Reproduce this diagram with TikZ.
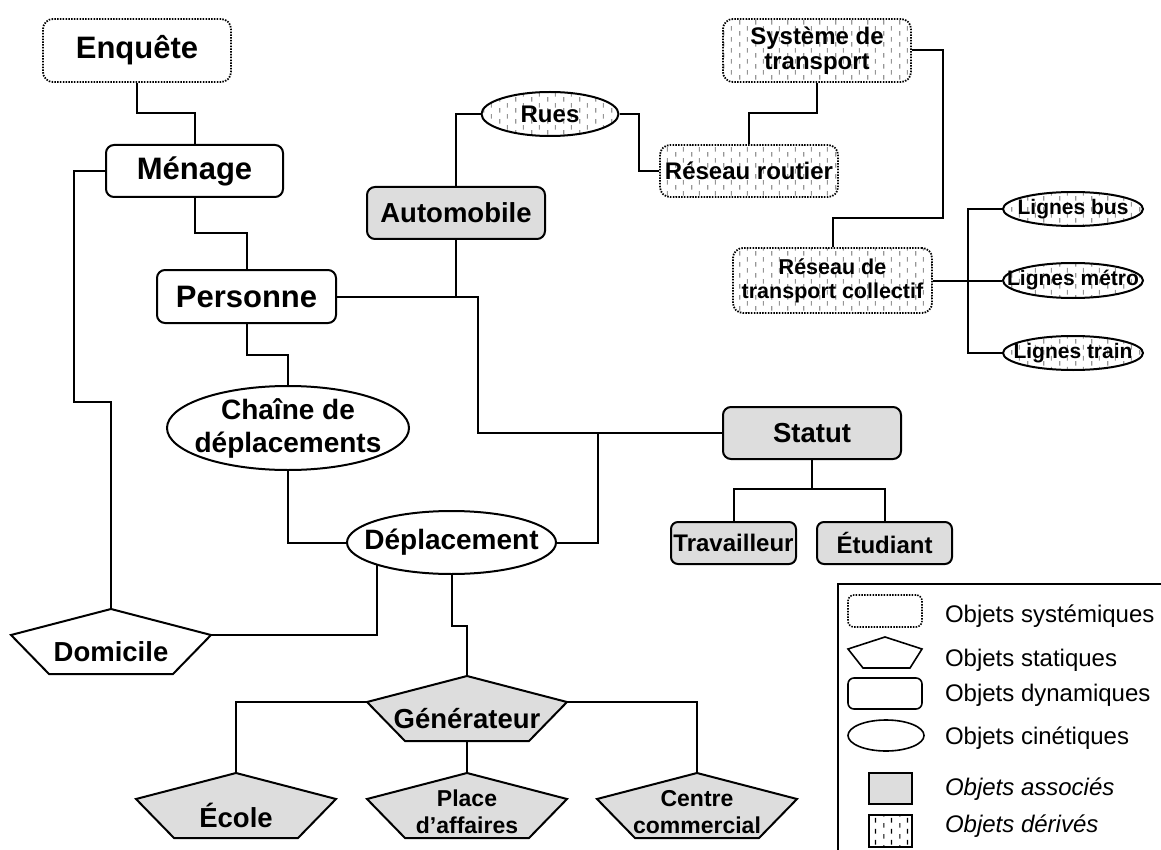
\documentclass[tikz,border=0pt]{standalone}
\usepackage{fontspec}
\setmainfont{Liberation Sans}
\usetikzlibrary{shapes.geometric,calc,patterns.meta}

\definecolor{assoc}{RGB}{221,221,221}
\definecolor{hatch}{RGB}{150,150,150}

% staggered short vertical dashes used for derived objects
\tikzdeclarepattern{
  name=dashcols, type=uncolored,
  bounding box={(0pt,0pt) and (16pt,11pt)},
  tile size={(16pt,11pt)},
  code={\draw[line width=1.2pt] (4pt,0.3pt) -- (4pt,5.2pt) (12pt,5.8pt) -- (12pt,10.7pt);}
}

\tikzset{
  fA/.style={font=\bfseries\fontsize{31}{34}\selectfont},
  fB/.style={font=\bfseries\fontsize{27.5}{33}\selectfont},
  fC/.style={font=\bfseries\fontsize{24}{25}\selectfont},
  fD/.style={font=\bfseries\fontsize{21.5}{24}\selectfont},
  fE/.style={font=\bfseries\fontsize{21}{24}\selectfont},
  fF/.style={font=\bfseries\fontsize{23}{27}\selectfont},
  fL/.style={font=\fontsize{24}{28}\selectfont},
  dyn/.style={draw, rounded corners=8pt, fill=white, inner sep=-25pt},
  sysobj/.style={draw, rounded corners=10pt, dash pattern=on 1.5pt off 1.3pt,
    line width=1.8pt, inner sep=-25pt},
  kin/.style={ellipse, draw, fill=white, inner sep=-30pt},
  derived/.style={pattern=dashcols, pattern color=hatch},
  assocfill/.style={fill=assoc},
  vhv/.style={to path={|- ($(\tikztostart)!0.5!(\tikztotarget)$) -| (\tikztotarget) \tikztonodes}},
  hvh/.style={to path={-| ($(\tikztostart)!0.5!(\tikztotarget)$) |- (\tikztotarget) \tikztonodes}},
  pics/pent/.style n args={4}{code={
    \filldraw[#1] (0,0) -- (100,26) -- (62,65) -- (-62,65) -- (-100,26) -- cycle;
    \coordinate (-apex) at (0,0);
    \coordinate (-left) at (-100,26);
    \coordinate (-right) at (100,26);
    \coordinate (-base) at (0,65);
    \node[#2] (-txt) at (0,#3) {#4};
  }},
}

\begin{document}
\begin{tikzpicture}[x=1pt, y=-1pt, line width=2pt,
  every node/.style={inner sep=0pt, align=center}]
\useasboundingbox (0,0) rectangle (1161,850);

% ---------- objects ----------
\node[sysobj, fill=white, fA, minimum width=188, minimum height=63] (enq) at (137,50.5) {Enquête};
\node[dyn, fA, minimum width=177, minimum height=52] (men) at (194.5,171) {Ménage};
\node[dyn, fA, minimum width=179, minimum height=53] (pers) at (246.5,296.5) {Personne};
\node[dyn, assocfill, fB, minimum width=178, minimum height=52] (auto) at (456,213) {Automobile};
\node[kin, derived, fC, minimum width=137, minimum height=44] (rues) at (550,114) {Rues};
\node[sysobj, derived, fC, minimum width=178, minimum height=52] (rr) at (749,171) {Réseau routier};
\node[sysobj, derived, fC, minimum width=188, minimum height=63] (sys) at (817,50.5) {Système de\\transport};
\node[sysobj, derived, fD, minimum width=199, minimum height=65] (rtc) at (832.5,280.5) {Réseau de\\transport collectif};
\node[kin, derived, fE, minimum width=140, minimum height=34] (bus) at (1073,209) {Lignes bus};
\node[kin, derived, fE, minimum width=140, minimum height=35] (metro) at (1073,280.5) {Lignes métro};
\node[kin, derived, fE, minimum width=140, minimum height=34] (train) at (1073,353) {Lignes train};
\node[kin, font=\bfseries\fontsize{28}{33}\selectfont, minimum width=242, minimum height=84] (cha) at (288,428) {Chaîne de\\déplacements};
\node[kin, font=\bfseries\fontsize{28}{33}\selectfont, minimum width=209, minimum height=63] (dep) at (451.5,542.5) {Déplacement};
\node[dyn, assocfill, fB, minimum width=178, minimum height=52] (stat) at (812,433) {Statut};
\node[dyn, assocfill, fC, rounded corners=7pt, minimum width=125, minimum height=42] (trav) at (733.5,543) {Travailleur};
\node[dyn, assocfill, fC, rounded corners=7pt, minimum width=135, minimum height=42] (etud) at (884.5,543) {Étudiant};

\pic (dom) at (111,609) {pent={fill=white}{fB}{43}{Domicile}};
\pic (gen) at (467,676) {pent={fill=assoc}{fB}{43}{Générateur}};
\pic (eco) at (236,773) {pent={fill=assoc}{fB}{42}{École}};
\pic (pla) at (467,773) {pent={fill=assoc}{fF}{39}{Place\\d’affaires}};
\pic (cen) at (697,773) {pent={fill=assoc}{fF}{39}{Centre\\commercial}};

% ---------- junction points ----------
\coordinate (bend-dom) at (74,402);
\coordinate (fork-stat) at (478,433);
\coordinate (join-dep) at (598,433);
\coordinate (stat-fork) at (812,489);
\coordinate (bend-rtc) at (943,218);
\coordinate (fork-lignes) at (968,280.5);

% ---------- connectors ----------
\draw (enq.south) to[vhv] (men.north);
\draw (men.south) to[vhv] (pers.north);
\draw (pers.south) to[vhv] (cha.north);
\draw (cha.south) |- (dep.west);
\draw (dep.south) to[vhv] (gen-apex);
\draw (men.west) -| (bend-dom) -| (dom-apex);
\draw (dom-right) -| (dep.south west);
\draw (gen-left) -| (eco-apex);
\draw (gen-right) -| (cen-apex);
\draw (gen-base) -- (pla-apex);
\draw (auto.south) |- (pers.east);
\draw (pers.east) -| (fork-stat) -- (stat.west);
\draw (dep.east) -| (join-dep);
\draw (stat.south) -- (stat-fork);
\draw (trav.north) |- (stat-fork) -| (etud.north);
\draw (rues.west) -| (auto.north);
\draw (rues.east) to[hvh] (rr.west);
\draw (rr.north) to[vhv] (sys.south);
\draw (sys.east) -| (bend-rtc) -| (rtc.north);
\draw (rtc.east) -- (metro.west);
\draw (bus.west) -| (fork-lignes) |- (train.west);

% ---------- legend ----------
\draw[line width=1.6pt] (838,850) -- (838,584) -- (1161,584);
\node[sysobj, fill=white, rounded corners=6pt, line width=1.6pt, minimum width=74, minimum height=32] (lg-sys) at (885,611) {};
\filldraw[fill=white, line width=1.6pt] (885,637) -- (922,649) -- (910,668) -- (863,668) -- (848,649) -- cycle;
\node[dyn, rounded corners=6pt, line width=1.6pt, minimum width=74, minimum height=31] (lg-dyn) at (885,693.5) {};
\node[kin, line width=1.6pt, minimum width=76, minimum height=31] (lg-kin) at (886,735.5) {};
\node[draw, fill=assoc, line width=1.6pt, minimum width=43, minimum height=31] (lg-assoc) at (890.5,788.5) {};
\node[draw, pattern=dashcols, pattern color=black, line width=1.6pt, minimum width=43, minimum height=32] (lg-der) at (890.5,831) {};

\node[fL, anchor=base west] (lt-sys) at (944,622) {Objets systémiques};
\node[fL, anchor=base west] (lt-stat) at (944,666) {Objets statiques};
\node[fL, anchor=base west] (lt-dyn) at (944,701) {Objets dynamiques};
\node[fL, anchor=base west] (lt-kin) at (944,744) {Objets cinétiques};
\node[fL, anchor=base west] (lt-assoc) at (944,795) {\itshape Objets associés};
\node[fL, anchor=base west] (lt-der) at (944,832) {\itshape Objets dérivés};
\end{tikzpicture}
\end{document}
